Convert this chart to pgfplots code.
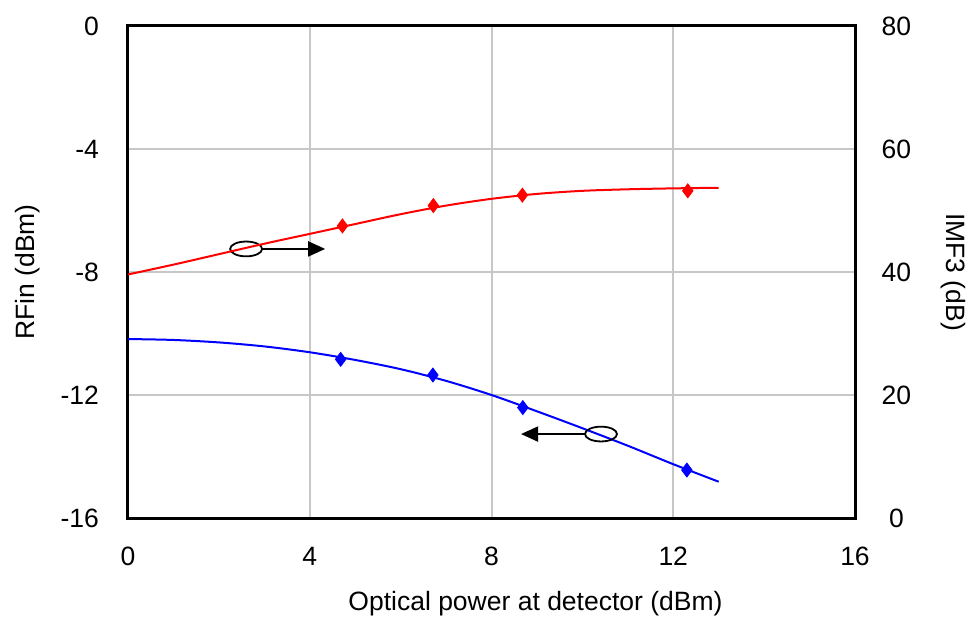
\documentclass[border=0pt]{standalone}
\usepackage{fontspec}
\setmainfont{Liberation Sans}
\usepackage{pgfplots}
\usepackage{pgfplotstable}
\pgfplotsset{compat=1.18}
\usetikzlibrary{arrows.meta}

% RFin (left axis), smooth fit and measured points
\pgfplotstableread{
x y
0 -10.18
1 -10.21
2 -10.29
3 -10.42
4 -10.61
5 -10.86
6 -11.16
7 -11.54
8 -12.00
9 -12.53
10 -13.08
11 -13.65
12 -14.25
13 -14.82
}\rfincurve
\pgfplotstableread{
x y
4.68 -10.84
6.71 -11.35
8.69 -12.41
12.30 -14.44
}\rfinpts

% IMF3 (right axis)
\pgfplotstableread{
x y
0 39.6
1 41.2
2 42.9
3 44.6
4 46.2
5 47.8
6 49.4
7 50.8
8 51.9
9 52.7
10 53.2
11 53.45
12 53.6
13 53.7
}\imfcurve
\pgfplotstableread{
x y
4.72 47.5
6.72 50.8
8.68 52.5
12.32 53.2
}\imfpts

\begin{document}
\begin{tikzpicture}[font=\fontsize{13.3}{15}\selectfont]
\pgfplotsset{
  every axis/.append style={
    scale only axis, width=363.5bp, height=246bp,
    xmin=0, xmax=16,
    major tick length=0pt,
    tick label style={/pgf/number format/assume math mode=true},
  }
}
\begin{axis}[
  ymin=-16, ymax=0,
  xtick={0,4,...,16}, ytick={-16,-12,...,0},
  grid=major,
  grid style={line width=1bp, color=black!22},
  axis line style={line width=1.5bp},
  xticklabel style={yshift=-11bp},
  yticklabel style={xshift=-11bp},
  xlabel={Optical power at detector (dBm)},
  ylabel={RFin (dBm)},
  x label style={at={([xshift=22bp, yshift=-43bp]axis description cs:0.5,0)}, anchor=center},
  y label style={at={([xshift=-50bp]axis description cs:0,0.5)}, anchor=center, rotate=0},
]
\coordinate (sw) at (rel axis cs:0,0);
\addplot[blue, line width=1bp, smooth] table {\rfincurve};
\addplot[blue, only marks, mark=diamond*, mark size=3.5bp] table {\rfinpts};
\draw[line width=0.9bp] (axis cs:2.6,-7.25) ellipse [x radius=8bp, y radius=3.7bp];
\draw[line width=0.9bp, -{Triangle[length=8.5bp, width=7.5bp]}] (axis cs:2.95,-7.25) -- (axis cs:4.34,-7.25);
\draw[line width=0.9bp] (axis cs:10.41,-13.27) ellipse [x radius=8bp, y radius=3.7bp];
\draw[line width=0.9bp, -{Triangle[length=8.5bp, width=7.5bp]}] (axis cs:10.06,-13.27) -- (axis cs:8.65,-13.27);
\end{axis}
\begin{axis}[
  ymin=0, ymax=80,
  ytick={0,20,...,80},
  axis x line=none,
  axis y line*=right,
  axis line style={line width=1.5bp},
  yticklabel style={text width=15bp, align=center, xshift=9.7bp},
  ylabel={IMF3 (dB)},
  y label style={at={([xshift=49bp]axis description cs:1,0.5)}, anchor=center, rotate=-180},
]
\addplot[red, line width=1bp, smooth] table {\imfcurve};
\addplot[red, only marks, mark=diamond*, mark size=3.5bp] table {\imfpts};
\end{axis}
\pgfresetboundingbox
\path[use as bounding box] ([shift={(-64bp,-51bp)}]sw) rectangle ([shift={(423bp,259bp)}]sw);
\end{tikzpicture}
\end{document}
